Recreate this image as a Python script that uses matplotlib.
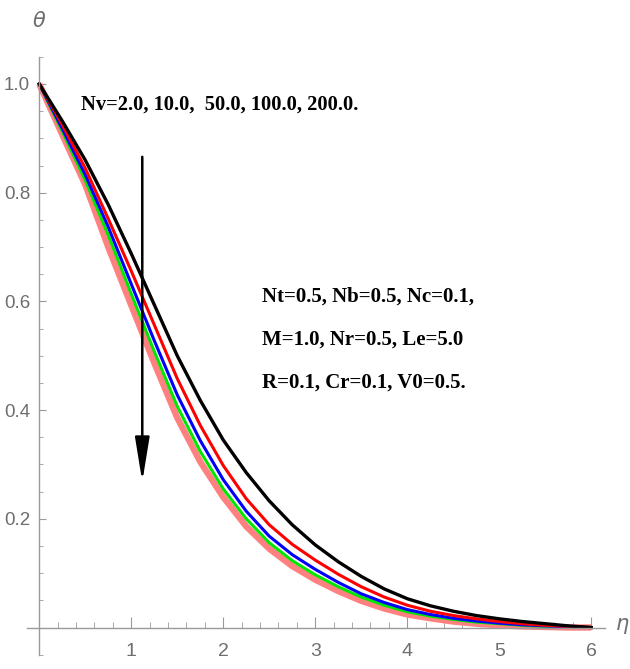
import matplotlib
matplotlib.use("Agg")
import matplotlib.pyplot as plt
from matplotlib.ticker import MultipleLocator, FixedLocator

# eta grid and temperature profiles theta(eta)
eta = [0.0, 0.25, 0.5, 0.75, 1.0, 1.25, 1.5, 1.75, 2.0, 2.25, 2.5, 2.75,
       3.0, 3.25, 3.5, 3.75, 4.0, 4.25, 4.5, 4.75, 5.0, 5.25, 5.5, 5.75, 6.0]

theta_nv2 = [1.000, 0.932, 0.860, 0.778, 0.688, 0.594, 0.500, 0.418, 0.345, 0.285, 0.233, 0.189,
             0.152, 0.121, 0.094, 0.071, 0.053, 0.040, 0.030, 0.022, 0.016, 0.011, 0.007, 0.003, 0.000]
theta_nv10 = [1.000, 0.925, 0.845, 0.752, 0.656, 0.557, 0.458, 0.372, 0.298, 0.237, 0.189, 0.153,
              0.124, 0.098, 0.075, 0.056, 0.041, 0.030, 0.022, 0.016, 0.011, 0.007, 0.004, 0.002, 0.000]
theta_nv50 = [1.000, 0.918, 0.833, 0.737, 0.632, 0.528, 0.428, 0.344, 0.272, 0.214, 0.168, 0.134,
              0.107, 0.083, 0.062, 0.046, 0.033, 0.024, 0.017, 0.012, 0.008, 0.005, 0.003, 0.001, 0.000]
theta_nv100 = [1.000, 0.913, 0.823, 0.722, 0.614, 0.508, 0.407, 0.324, 0.255, 0.200, 0.156, 0.123,
               0.097, 0.075, 0.056, 0.041, 0.029, 0.021, 0.015, 0.010, 0.007, 0.004, 0.002, 0.001, 0.000]
theta_nv200 = [1.000, 0.907, 0.815, 0.700, 0.593, 0.487, 0.386, 0.305, 0.240, 0.186, 0.145, 0.113,
               0.088, 0.067, 0.049, 0.035, 0.024, 0.017, 0.011, 0.007, 0.004, 0.002, 0.001, 0.000, 0.000]

x_ticks = [1, 2, 3, 4, 5, 6]
y_ticks = [0.2, 0.4, 0.6, 0.8, 1.0]
y_tick_labels = ["0.2", "0.4", "0.6", "0.8", "1.0"]

nv_label = "Nv=2.0, 10.0,  50.0, 100.0, 200.0."
param_lines = ["Nt=0.5, Nb=0.5, Nc=0.1,",
               "M=1.0, Nr=0.5, Le=5.0",
               "R=0.1, Cr=0.1, V0=0.5."]

axis_gray = "#9a9a9a"
label_gray = "#6e6e6e"
tick_font = ["Liberation Sans", "DejaVu Sans"]

fig = plt.figure(figsize=(6.3, 6.69), dpi=100)
ax = fig.add_axes([0.0433, 0.0214, 0.9171, 0.8937])

# thick pink first so the others sit on top
ax.plot(eta, theta_nv200, color="#ff8080", lw=4.6, solid_capstyle="butt")
ax.plot(eta, theta_nv100, color="#00e600", lw=2.2)
ax.plot(eta, theta_nv50, color="#0000ff", lw=2.2)
ax.plot(eta, theta_nv10, color="#ff0000", lw=2.2)
ax.plot(eta, theta_nv2, color="black", lw=2.4)

ax.set_xlim(-0.13, 6.15)
ax.set_ylim(-0.05, 1.05)

for side in ["top", "right"]:
    ax.spines[side].set_visible(False)
ax.spines["left"].set_position(("data", 0))
ax.spines["bottom"].set_position(("data", 0))
for side in ["left", "bottom"]:
    ax.spines[side].set_color(axis_gray)
    ax.spines[side].set_linewidth(1.0)

ax.xaxis.set_major_locator(FixedLocator(x_ticks))
ax.xaxis.set_minor_locator(MultipleLocator(0.2))
ax.yaxis.set_major_locator(FixedLocator(y_ticks))
ax.yaxis.set_minor_locator(MultipleLocator(0.05))
ax.set_yticklabels(y_tick_labels)

ax.tick_params(axis="x", which="major", direction="in", length=8, width=0.8,
               color=axis_gray, labelcolor=label_gray, labelsize=14, pad=11)
ax.tick_params(axis="x", which="minor", direction="in", length=4.5, width=0.6, color=axis_gray)
ax.tick_params(axis="y", which="major", direction="in", length=5, width=0.8,
               color=axis_gray, labelcolor=label_gray, labelsize=13.5, pad=6.5)
ax.tick_params(axis="y", which="minor", direction="in", length=3, width=0.6, color=axis_gray)
for lab in ax.get_xticklabels() + ax.get_yticklabels():
    lab.set_family(tick_font)

# axis labels in Mathematica style
fig.text(39 / 630, 1 - 21 / 669, r"$\theta$", color=label_gray, fontsize=15,
         ha="center", va="center")
fig.text(622 / 630, 1 - 626 / 669, r"$\eta$", color=label_gray, fontsize=15,
         ha="center", va="center")

# arrow showing increasing Nv
ax.annotate("", xy=(1.12, 0.268), xytext=(1.12, 0.866),
            arrowprops=dict(arrowstyle="-|>,head_length=1.35,head_width=0.22",
                            mutation_scale=20, lw=1.8, color="black",
                            shrinkA=0, shrinkB=0))

serif_bold = dict(family="Liberation Serif", fontweight="bold", color="black")
fig.text(81 / 630, 1 - 110 / 669, nv_label, fontsize=14.8, ha="left", va="baseline", **serif_bold)
for i, line in enumerate(param_lines):
    fig.text(262 / 630, 1 - (302 + 43 * i) / 669, line, fontsize=15,
             ha="left", va="baseline", **serif_bold)

fig.savefig("out.png", dpi=100)
